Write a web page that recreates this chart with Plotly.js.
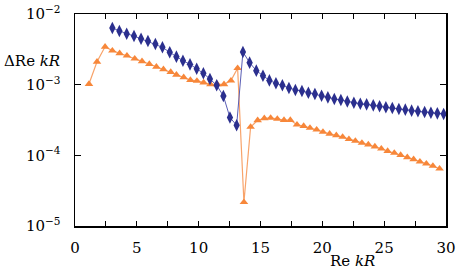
<!DOCTYPE html>
<html>
<head>
<meta charset="utf-8">
<script src="https://cdn.plot.ly/plotly-3.0.1.min.js"></script>
<style>html,body{margin:0;padding:0;background:#fff;}#chart{width:458px;height:270px;}</style>
</head>
<body>
<div id="chart"></div>
<script>
const blueX = [3.02,3.59,4.18,4.77,5.34,5.90,6.50,7.07,7.66,8.20,8.73,9.30,9.84,10.38,10.91,11.46,12.00,12.53,13.07,13.58,14.12,14.66,15.20,15.72,16.25,16.77,17.30,17.82,18.35,18.87,19.40,19.94,20.45,20.97,21.50,22.02,22.55,23.07,23.58,24.12,24.63,25.14,25.66,26.19,26.71,27.22,27.73,28.27,28.78,29.30,29.81];
const blueY = [6.33e-3,5.74e-3,5.26e-3,4.88e-3,4.47e-3,4.15e-3,3.76e-3,3.38e-3,2.87e-3,2.49e-3,2.18e-3,1.94e-3,1.68e-3,1.45e-3,1.20e-3,9.8e-4,6.92e-4,3.43e-4,2.66e-4,2.90e-3,2.05e-3,1.58e-3,1.34e-3,1.15e-3,1.045e-3,9.8e-4,8.97e-4,8.41e-4,8.13e-4,7.69e-4,7.38e-4,6.98e-4,6.62e-4,6.27e-4,6.07e-4,5.78e-4,5.56e-4,5.38e-4,5.27e-4,5.10e-4,4.94e-4,4.78e-4,4.68e-4,4.53e-4,4.43e-4,4.29e-4,4.20e-4,4.10e-4,4.01e-4,3.93e-4,3.85e-4];
const orangeX = [1.13,1.78,2.43,3.02,3.61,4.20,4.83,5.42,6.01,6.58,7.15,7.74,8.20,8.79,9.33,9.86,10.40,10.95,11.51,12.05,12.61,13.15,13.66,14.20,14.77,15.31,15.82,16.36,16.90,17.41,17.95,18.49,19.00,19.54,20.05,20.59,21.13,21.64,22.15,22.67,23.20,23.72,24.25,24.77,25.28,25.82,26.33,26.87,27.38,27.89,28.41,28.94,29.48];
const orangeY = [1.02e-3,2.11e-3,3.44e-3,3.03e-3,2.78e-3,2.57e-3,2.33e-3,2.14e-3,1.96e-3,1.79e-3,1.65e-3,1.51e-3,1.38e-3,1.27e-3,1.16e-3,1.13e-3,1.07e-3,1.01e-3,1.01e-3,1.01e-3,1.14e-3,1.71e-3,2.17e-5,2.52e-4,3.13e-4,3.34e-4,3.38e-4,3.27e-4,3.16e-4,3.16e-4,2.71e-4,2.60e-4,2.44e-4,2.31e-4,2.14e-4,2.02e-4,1.92e-4,1.82e-4,1.69e-4,1.60e-4,1.50e-4,1.42e-4,1.33e-4,1.24e-4,1.15e-4,1.08e-4,1.01e-4,9.38e-5,8.79e-5,8.13e-5,7.62e-5,7.07e-5,6.47e-5];

const xTickVals = [0,5,10,15,20,25,30];
const xTickText = ['0','5','10','15','20','25','30'];
const yTickVals = [1e-5,1e-4,1e-3,1e-2];
const yTickText = ['10<sup>\u22125</sup>','10<sup>\u22124</sup>','10<sup>\u22123</sup>','10<sup>\u22122</sup>'];

const FONT = 'DejaVu Serif';

const traces = [
  {x: orangeX, y: orangeY, mode: 'lines+markers', type: 'scatter',
   line: {color: '#f8a36a', width: 1.2},
   marker: {symbol: 'triangle-up', size: 7.5, color: '#f7873a'}},
  {x: blueX, y: blueY, mode: 'lines+markers', type: 'scatter',
   line: {color: '#5a5eb5', width: 1},
   marker: {symbol: 'diamond-tall', size: 9, color: '#2b2f8e'}}
];

const layout = {
  width: 458, height: 270,
  margin: {l: 75.3, r: 12, t: 14, b: 44},
  paper_bgcolor: '#fff', plot_bgcolor: '#fff',
  showlegend: false,
  font: {family: FONT, size: 15, color: '#000'},
  xaxis: {
    range: [0, 30], tickvals: xTickVals, ticktext: xTickText,
    ticks: 'inside', ticklen: 5, tickwidth: 1, tickcolor: '#000',
    minor: {tickvals: [2.5,7.5,12.5,17.5,22.5,27.5], ticks: 'inside', ticklen: 5, tickwidth: 1, tickcolor: '#000', showgrid: false},
    showline: true, linecolor: '#000', linewidth: 1.5, mirror: 'ticks',
    showgrid: false, zeroline: false, ticklabelstandoff: 7,
    tickfont: {family: FONT, size: 15}
  },
  yaxis: {
    type: 'log', range: [-5, -2], tickvals: yTickVals, ticktext: yTickText,
    ticks: 'inside', ticklen: 6, tickwidth: 1, tickcolor: '#000',
    showline: true, linecolor: '#000', linewidth: 1.5, mirror: 'ticks',
    showgrid: false, zeroline: false, ticklabelstandoff: 10,
    tickfont: {family: FONT, size: 15}
  },
  annotations: [
    {text: '\u0394Re <i>kR</i>', xref: 'paper', yref: 'paper', x: -0.197, y: 0.78,
     xanchor: 'left', yanchor: 'middle', showarrow: false, font: {family: FONT, size: 15}},
    {text: 'Re <i>kR</i>', xref: 'paper', yref: 'paper', x: 0.749, y: -0.165,
     xanchor: 'center', yanchor: 'middle', showarrow: false, font: {family: FONT, size: 15}}
  ]
};

Plotly.newPlot('chart', traces, layout, {staticPlot: true, displayModeBar: false});
</script>
</body>
</html>
